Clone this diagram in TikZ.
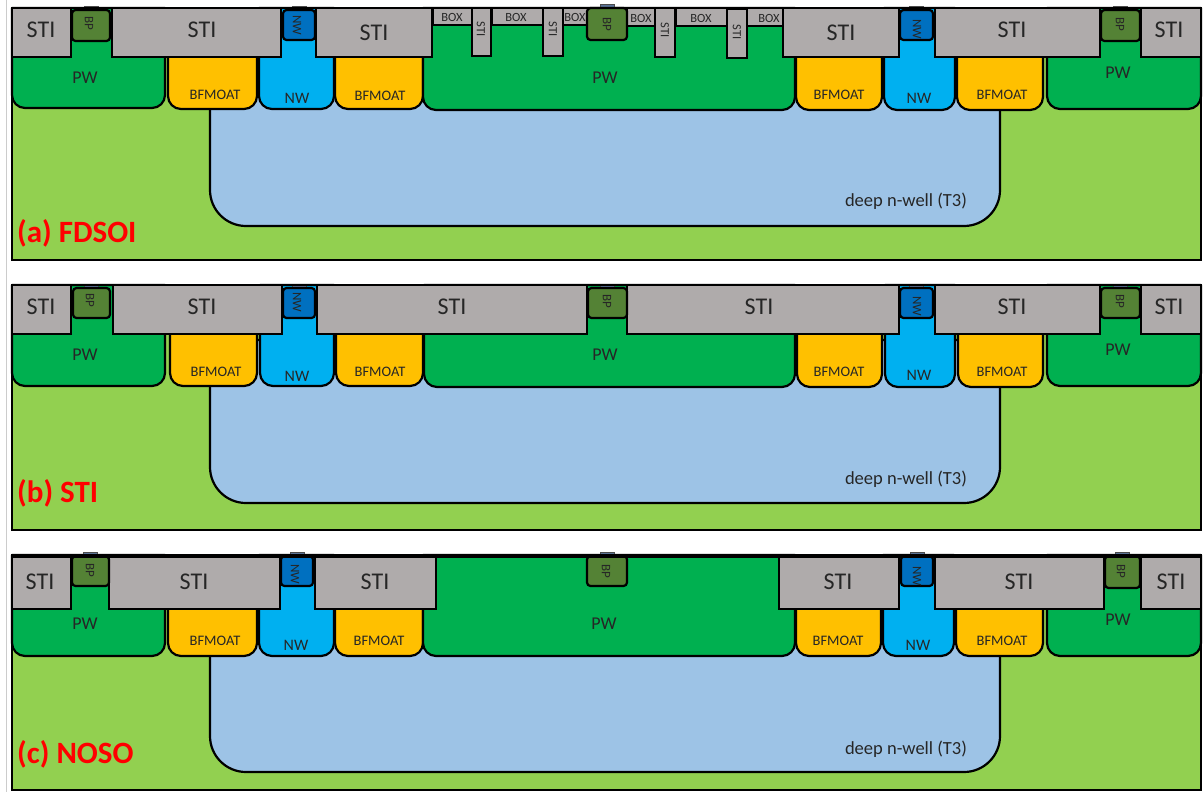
\documentclass[tikz,border=0pt]{standalone}
\usepackage{fontspec}
\setmainfont{Carlito}
\definecolor{subg}{HTML}{92D050}
\definecolor{deepb}{HTML}{9DC3E6}
\definecolor{pwg}{HTML}{00B050}
\definecolor{moat}{HTML}{FFC000}
\definecolor{nwb}{HTML}{00B0F0}
\definecolor{nwcap}{HTML}{0070C0}
\definecolor{bpg}{HTML}{548235}
\definecolor{stig}{HTML}{AFABAB}
\definecolor{txt}{HTML}{262626}
\definecolor{contact}{HTML}{5B7396}
\newcount\labn
\tikzset{
  wellpath/.style={draw=black,line width=2.2pt,line join=round},
  stibox/.style={draw=black,line width=1.4pt,fill=stig},
  capbox/.style={draw=black,line width=2.2pt,rounded corners=3.5pt},
  contactbox/.style={draw=black!70,line width=0.5pt,fill=contact},
  lab/.style={inner sep=0pt,text=txt,font=\fontsize{#1}{#1}\selectfont},
  panelname/.style={inner sep=0pt,anchor=west,text=red,font=\fontsize{31}{31}\selectfont\bfseries},
}
% well: x1 x2 top bottom radius colour
\newcommand{\wellshape}[6]{\path[wellpath,fill=#6] (#1,#3) [rounded corners=#5pt] -- (#1,#4) -- (#2,#4) [sharp corners] -- (#2,#3) -- cycle;}
\newcommand{\stishape}[4]{\path[stibox] (#1,#3) rectangle (#2,#4);}
\newcommand{\capshape}[5]{\path[contactbox] ({(#1+#2)/2-7},#3-4) rectangle ({(#1+#2)/2+7},#3);\path[capbox,fill=#5] (#1,#3) rectangle (#2,#4);}
% label: x y size rotation text
\newcommand{\tl}[5]{\global\advance\labn by 1 \node[lab=#3,rotate=#4] (t\the\labn) at (#1,#2) {#5};}
\newcommand{\sz}{24}
\newcommand{\szr}{13}
\begin{document}
\begin{tikzpicture}[x=1pt,y=-1pt]
\useasboundingbox (0,0) rectangle (1203,792);
\fill[white] (0,0) rectangle (1203,792);
\draw[black!20,line width=0.8pt] (6.5,0) -- (6.5,792);

%%% Panel (a)
\fill[subg] (12,8) rectangle (1201,260);
\wellshape{210}{1000}{60}{226}{36}{deepb}
\wellshape{12}{165}{8}{108}{13}{pwg}
\wellshape{168}{257}{40}{109}{13}{moat}
\wellshape{259}{334}{8}{109}{13}{nwb}
\wellshape{335}{423}{40}{109}{13}{moat}
\wellshape{423}{795}{8}{110}{13}{pwg}
\wellshape{796}{882}{40}{110}{13}{moat}
\wellshape{884}{955}{8}{110}{13}{nwb}
\wellshape{957}{1043}{40}{110}{13}{moat}
\wellshape{1047}{1201}{8}{109}{13}{pwg}
\stishape{12}{71}{8}{57}
\stishape{112}{281}{8}{57}
\stishape{316}{432}{8}{57}
\stishape{433}{472}{8}{25}
\stishape{492}{543}{8}{25}
\stishape{563}{588}{8}{25}
\stishape{627}{656}{8}{26}
\stishape{676}{727}{8}{26}
\stishape{747}{784}{8}{26}
\stishape{472}{491}{8}{56}
\stishape{543}{563}{8}{56}
\stishape{655}{675}{8}{57}
\stishape{727}{747}{9}{58}
\stishape{783}{899}{8}{57}
\stishape{935}{1100}{8}{57}
\stishape{1141}{1201}{8}{57}
\capshape{72}{110}{10}{41}{bpg}
\capshape{283}{315}{10}{40}{nwcap}
\capshape{587}{627}{8}{40}{bpg}
\capshape{900}{933}{10}{40}{nwcap}
\capshape{1101}{1140}{10}{41}{bpg}
\draw[black,line width=1.8pt] (12,8) rectangle (1201,260);
\tl{41}{30}{\sz}{0}{STI}
\tl{202}{30}{\sz}{0}{STI}
\tl{374}{33}{\sz}{0}{STI}
\tl{841}{33}{\sz}{0}{STI}
\tl{1012}{30}{\sz}{0}{STI}
\tl{1169}{30}{\sz}{0}{STI}
\tl{89}{23}{\szr}{-90}{BP}
\tl{607}{24}{\szr}{-90}{BP}
\tl{1120}{24}{\szr}{-90}{BP}
\tl{297}{25}{\szr}{-90}{NW}
\tl{917}{29}{\szr}{-90}{NW}
\tl{452}{17}{12.5}{0}{BOX}
\tl{516}{17}{12.5}{0}{BOX}
\tl{575}{17}{12.5}{0}{BOX}
\tl{641}{18}{12.5}{0}{BOX}
\tl{701}{18}{12.5}{0}{BOX}
\tl{769}{18}{12.5}{0}{BOX}
\tl{481}{29}{12.5}{-90}{STI}
\tl{553}{29}{12.5}{-90}{STI}
\tl{665}{30}{12.5}{-90}{STI}
\tl{737}{32}{12.5}{-90}{STI}
\tl{85}{78}{18}{0}{PW}
\tl{605}{78}{18}{0}{PW}
\tl{1118}{73}{18}{0}{PW}
\tl{215}{95}{14.5}{0}{BFMOAT}
\tl{380}{96}{14.5}{0}{BFMOAT}
\tl{839}{95}{14.5}{0}{BFMOAT}
\tl{1002}{95}{14.5}{0}{BFMOAT}
\tl{297}{98}{16}{0}{NW}
\tl{919}{98}{16}{0}{NW}
\tl{906}{201}{18.5}{0}{deep n-well (T3)}
\node[panelname] (namea) at (17,233) {(a) FDSOI};

%%% Panel (b)
\fill[subg] (12,285) rectangle (1201,530);
\wellshape{210}{1000}{340}{503}{36}{deepb}
\wellshape{12}{165}{285}{386}{13}{pwg}
\wellshape{170}{257}{320}{386}{13}{moat}
\wellshape{260}{334}{285}{386}{13}{nwb}
\wellshape{336}{423}{320}{386}{13}{moat}
\wellshape{424}{795}{285}{387}{13}{pwg}
\wellshape{797}{882}{320}{387}{13}{moat}
\wellshape{885}{955}{285}{387}{13}{nwb}
\wellshape{958}{1043}{320}{387}{13}{moat}
\wellshape{1047}{1201}{285}{386}{13}{pwg}
\stishape{12}{71}{285}{334}
\stishape{113}{282}{285}{334}
\stishape{317}{587}{285}{334}
\stishape{627}{899}{285}{334}
\stishape{935}{1100}{285}{334}
\stishape{1141}{1201}{285}{334}
\capshape{73}{110}{288}{318}{bpg}
\capshape{283}{315}{288}{318}{nwcap}
\capshape{588}{627}{288}{318}{bpg}
\capshape{900}{933}{288}{318}{nwcap}
\capshape{1101}{1140}{288}{318}{bpg}
\draw[black,line width=1.8pt] (12,285) rectangle (1201,530);
\tl{41}{307}{\sz}{0}{STI}
\tl{202}{307}{\sz}{0}{STI}
\tl{452}{307}{\sz}{0}{STI}
\tl{759}{307}{\sz}{0}{STI}
\tl{1012}{307}{\sz}{0}{STI}
\tl{1169}{307}{\sz}{0}{STI}
\tl{90}{300}{\szr}{-90}{BP}
\tl{607}{301}{\szr}{-90}{BP}
\tl{1120}{301}{\szr}{-90}{BP}
\tl{297}{302}{\szr}{-90}{NW}
\tl{917}{306}{\szr}{-90}{NW}
\tl{85}{355}{18}{0}{PW}
\tl{605}{355}{18}{0}{PW}
\tl{1118}{350}{18}{0}{PW}
\tl{216}{372}{14.5}{0}{BFMOAT}
\tl{380}{372}{14.5}{0}{BFMOAT}
\tl{839}{372}{14.5}{0}{BFMOAT}
\tl{1002}{372}{14.5}{0}{BFMOAT}
\tl{297}{376}{16}{0}{NW}
\tl{919}{375}{16}{0}{NW}
\tl{906}{479}{18.5}{0}{deep n-well (T3)}
\node[panelname] (nameb) at (17,493) {(b) STI};

%%% Panel (c)
\fill[subg] (12,555) rectangle (1201,790);
\wellshape{210}{1000}{610}{772}{36}{deepb}
\wellshape{12}{165}{555}{656}{13}{pwg}
\wellshape{168}{257}{590}{656}{13}{moat}
\wellshape{259}{334}{555}{656}{13}{nwb}
\wellshape{335}{423}{590}{656}{13}{moat}
\wellshape{423}{795}{555}{656}{13}{pwg}
\wellshape{796}{881}{590}{656}{13}{moat}
\wellshape{883}{954}{555}{656}{13}{nwb}
\wellshape{956}{1043}{590}{656}{13}{moat}
\wellshape{1047}{1201}{555}{656}{13}{pwg}
\stishape{12}{71}{555}{609}
\stishape{109}{280}{555}{609}
\stishape{315}{436}{555}{609}
\stishape{779}{899}{555}{609}
\stishape{935}{1104}{555}{609}
\stishape{1141}{1201}{555}{609}
\capshape{72}{109}{556}{586}{bpg}
\capshape{281}{313}{556}{586}{nwcap}
\capshape{587}{627}{556}{586}{bpg}
\capshape{901}{933}{556}{586}{nwcap}
\capshape{1105}{1140}{556}{588}{bpg}
\draw[black,line width=1.8pt] (12,555) rectangle (1201,790);
\draw[black,line width=3pt] (12,556) -- (1201,556);
\tl{40}{582}{\sz}{0}{STI}
\tl{194}{582}{\sz}{0}{STI}
\tl{375}{582}{\sz}{0}{STI}
\tl{838}{582}{\sz}{0}{STI}
\tl{1019}{582}{\sz}{0}{STI}
\tl{1171}{582}{\sz}{0}{STI}
\tl{90}{570}{\szr}{-90}{BP}
\tl{606}{571}{\szr}{-90}{BP}
\tl{1121}{571}{\szr}{-90}{BP}
\tl{295}{574}{\szr}{-90}{NW}
\tl{917}{576}{\szr}{-90}{NW}
\tl{85}{624}{18}{0}{PW}
\tl{604}{624}{18}{0}{PW}
\tl{1118}{620}{18}{0}{PW}
\tl{215}{641}{14.5}{0}{BFMOAT}
\tl{379}{641}{14.5}{0}{BFMOAT}
\tl{838}{641}{14.5}{0}{BFMOAT}
\tl{1002}{641}{14.5}{0}{BFMOAT}
\tl{296}{645}{16}{0}{NW}
\tl{918}{645}{16}{0}{NW}
\tl{906}{749}{18.5}{0}{deep n-well (T3)}
\node[panelname] (namec) at (17,754) {(c) NOSO};
\end{tikzpicture}
\end{document}
